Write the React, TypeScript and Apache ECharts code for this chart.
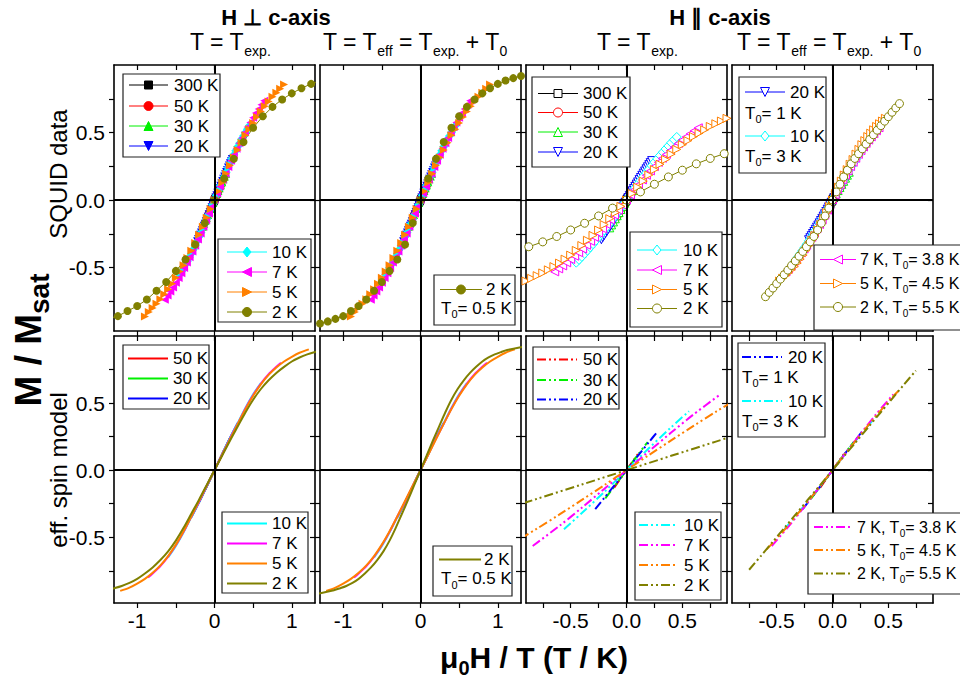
import React, { useEffect, useRef } from 'react';
import * as echarts from 'echarts';

const FONT_FAMILY = '"Liberation Sans", Arial, Helvetica, sans-serif';

// ---------------- data ----------------
const TEMPS = [300, 50, 30, 20, 10, 7, 5, 2];

// applied field grid (T) of the SQUID runs
const FIELD = [-4.5, -4.25, -4, -3.75, -3.5, -3.25, -3, -2.75, -2.5, -2.25, -2, -1.75, -1.5, -1.25, -1, -0.75, -0.5, -0.25, 0,
  0.25, 0.5, 0.75, 1, 1.25, 1.5, 1.75, 2, 2.25, 2.5, 2.75, 3, 3.25, 3.5, 3.75, 4, 4.25, 4.5];
const FIELD_COARSE = [-4.5, -4, -3.5, -3, -2.5, -2, -1.5, -1, -0.5, 0, 0.5, 1, 1.5, 2, 2.5, 3, 3.5, 4, 4.5];

// SQUID data, H perpendicular to c (M / Msat)
const PERP_300K = [-0.021, -0.019, -0.016, -0.014, -0.012, -0.009, -0.007, -0.005, -0.002, 0, 0.002, 0.005, 0.007, 0.009, 0.012, 0.014, 0.016, 0.019, 0.021];
const PERP_50K = [-0.118, -0.105, -0.092, -0.079, -0.066, -0.053, -0.04, -0.026, -0.013, 0, 0.013, 0.026, 0.039, 0.052, 0.065, 0.078, 0.091, 0.104, 0.117];
const PERP_30K = [-0.197, -0.176, -0.155, -0.133, -0.111, -0.089, -0.067, -0.045, -0.022, 0, 0.022, 0.044, 0.066, 0.088, 0.11, 0.131, 0.153, 0.174, 0.195];
const PERP_20K = [-0.305, -0.289, -0.273, -0.257, -0.241, -0.224, -0.208, -0.191, -0.175, -0.158, -0.141, -0.123, -0.106, -0.088, -0.071, -0.053, -0.035, -0.018, 0,
  0.018, 0.035, 0.053, 0.07, 0.088, 0.105, 0.122, 0.14, 0.157, 0.174, 0.19, 0.207, 0.223, 0.24, 0.256, 0.272, 0.288, 0.303];
const PERP_10K = [-0.552, -0.527, -0.502, -0.477, -0.452, -0.423, -0.397, -0.367, -0.337, -0.306, -0.272, -0.241, -0.207, -0.176, -0.141, -0.106, -0.07, -0.035, 0,
  0.035, 0.07, 0.105, 0.14, 0.175, 0.205, 0.24, 0.27, 0.305, 0.335, 0.365, 0.395, 0.42, 0.45, 0.475, 0.5, 0.525, 0.55];
const PERP_7K = [-0.738, -0.708, -0.678, -0.647, -0.613, -0.578, -0.542, -0.503, -0.463, -0.423, -0.382, -0.338, -0.292, -0.247, -0.197, -0.15, -0.1, -0.05, 0,
  0.05, 0.1, 0.15, 0.195, 0.245, 0.29, 0.335, 0.38, 0.42, 0.46, 0.5, 0.54, 0.575, 0.61, 0.645, 0.675, 0.705, 0.735];
const PERP_5K = [-0.862, -0.83, -0.8, -0.768, -0.734, -0.698, -0.66, -0.62, -0.576, -0.53, -0.483, -0.43, -0.375, -0.318, -0.258, -0.197, -0.132, -0.066, 0,
  0.065, 0.13, 0.195, 0.255, 0.315, 0.37, 0.425, 0.48, 0.525, 0.57, 0.615, 0.655, 0.695, 0.73, 0.765, 0.795, 0.825, 0.855];
const PERP_2K = [-0.958, -0.952, -0.945, -0.936, -0.926, -0.914, -0.899, -0.88, -0.86, -0.822, -0.785, -0.737, -0.672, -0.607, -0.525, -0.44, -0.33, -0.17, 0,
  0.16, 0.305, 0.43, 0.535, 0.62, 0.69, 0.745, 0.79, 0.828, 0.86, 0.885, 0.903, 0.918, 0.93, 0.94, 0.948, 0.955, 0.96];

// SQUID data, H parallel to c
const PAR_300K = [-0.022, -0.02, -0.017, -0.015, -0.012, -0.01, -0.007, -0.005, -0.002, 0, 0.002, 0.005, 0.007, 0.01, 0.012, 0.015, 0.017, 0.02, 0.022];
const PAR_50K = [-0.128, -0.114, -0.1, -0.086, -0.071, -0.057, -0.043, -0.029, -0.014, 0, 0.014, 0.029, 0.043, 0.057, 0.071, 0.086, 0.1, 0.114, 0.128];
const PAR_30K = [-0.206, -0.184, -0.162, -0.139, -0.116, -0.093, -0.07, -0.047, -0.024, 0, 0.024, 0.047, 0.07, 0.093, 0.116, 0.139, 0.162, 0.184, 0.206];
const PAR_20K = [-0.294, -0.279, -0.264, -0.248, -0.233, -0.217, -0.201, -0.185, -0.169, -0.152, -0.136, -0.119, -0.102, -0.085, -0.068, -0.051, -0.034, -0.017, 0,
  0.017, 0.034, 0.051, 0.068, 0.085, 0.101, 0.118, 0.134, 0.151, 0.167, 0.183, 0.199, 0.215, 0.231, 0.246, 0.262, 0.277, 0.292];
const PAR_10K = [-0.464, -0.443, -0.421, -0.398, -0.375, -0.351, -0.327, -0.302, -0.277, -0.251, -0.225, -0.199, -0.172, -0.144, -0.117, -0.088, -0.059, -0.03, 0,
  0.03, 0.06, 0.089, 0.118, 0.146, 0.174, 0.201, 0.228, 0.254, 0.28, 0.305, 0.33, 0.354, 0.378, 0.401, 0.424, 0.446, 0.467];
const PAR_7K = [-0.532, -0.51, -0.488, -0.465, -0.441, -0.416, -0.39, -0.363, -0.335, -0.306, -0.276, -0.245, -0.213, -0.181, -0.147, -0.112, -0.075, -0.037, 0,
  0.038, 0.076, 0.113, 0.149, 0.183, 0.216, 0.248, 0.279, 0.309, 0.338, 0.366, 0.393, 0.419, 0.444, 0.468, 0.491, 0.513, 0.535];
const PAR_5K = [-0.6, -0.58, -0.56, -0.54, -0.517, -0.493, -0.467, -0.438, -0.408, -0.373, -0.337, -0.298, -0.262, -0.222, -0.182, -0.138, -0.093, -0.047, 0,
  0.048, 0.095, 0.14, 0.185, 0.225, 0.265, 0.3, 0.34, 0.375, 0.41, 0.44, 0.47, 0.495, 0.52, 0.545, 0.565, 0.585, 0.605];
const PAR_2K = [-0.716, -0.684, -0.652, -0.619, -0.586, -0.553, -0.519, -0.485, -0.451, -0.416, -0.381, -0.346, -0.31, -0.27, -0.222, -0.172, -0.118, -0.06, 0,
  0.06, 0.117, 0.171, 0.221, 0.268, 0.308, 0.343, 0.379, 0.414, 0.449, 0.483, 0.517, 0.551, 0.584, 0.617, 0.65, 0.682, 0.714];

// T0 corrections (aligned with TEMPS)
const PERP_T0 = [0, 0, 0, 0, 0, 0, 0, 0.5];
const PAR_T0 = [0, 0, 0, 1, 3, 3.8, 4.5, 5.5];

// effective spin model, H perpendicular to c  (x = mu0H / T_exp)
const MPERP_50K_X = [-0.12, -0.06, 0, 0.06, 0.12];
const MPERP_50K_M = [-0.145, -0.073, 0, 0.073, 0.145];
const MPERP_30K_X = [-0.2, -0.1, 0, 0.1, 0.2];
const MPERP_30K_M = [-0.24, -0.12, 0, 0.12, 0.24];
const MPERP_20K_X = [-0.3, -0.2, -0.1, 0, 0.1, 0.2, 0.3];
const MPERP_20K_M = [-0.352, -0.24, -0.12, 0, 0.12, 0.24, 0.352];
const MPERP_10K_X = [-0.6, -0.5, -0.4, -0.3, -0.2, -0.1, 0, 0.1, 0.2, 0.3, 0.4, 0.5, 0.6];
const MPERP_10K_M = [-0.65, -0.565, -0.463, -0.35, -0.238, -0.12, 0, 0.12, 0.238, 0.35, 0.463, 0.565, 0.65];
const MPERP_7K_X = [-0.86, -0.8, -0.7, -0.6, -0.5, -0.4, -0.3, -0.2, -0.1, 0, 0.1, 0.2, 0.3, 0.4, 0.5, 0.6, 0.7, 0.8, 0.86];
const MPERP_7K_M = [-0.8, -0.77, -0.715, -0.645, -0.56, -0.46, -0.345, -0.235, -0.118, 0, 0.118, 0.235, 0.345, 0.46, 0.56, 0.645, 0.715, 0.77, 0.8];
const MPERP_5K_X = [-1.22, -1.1, -1, -0.9, -0.8, -0.7, -0.6, -0.5, -0.4, -0.3, -0.2, -0.1, 0, 0.1, 0.2, 0.3, 0.4, 0.5, 0.6, 0.7, 0.8, 0.9, 1, 1.1, 1.22];
const MPERP_5K_M = [-0.9, -0.875, -0.845, -0.81, -0.765, -0.71, -0.64, -0.555, -0.455, -0.345, -0.23, -0.115, 0, 0.115, 0.23, 0.345, 0.455, 0.555, 0.64, 0.71, 0.765, 0.81, 0.845, 0.875, 0.9];
const MPERP_2K_X = [-3, -2.5, -2, -1.8, -1.6, -1.4, -1.3, -1.2, -1.1, -1, -0.9, -0.8, -0.7, -0.6, -0.5, -0.4, -0.3, -0.2, -0.1, 0,
  0.1, 0.2, 0.3, 0.4, 0.5, 0.6, 0.7, 0.8, 0.9, 1, 1.1, 1.2, 1.3, 1.4, 1.6, 1.8, 2, 2.5, 3];
const MPERP_2K_M = [-0.965, -0.955, -0.94, -0.93, -0.915, -0.895, -0.88, -0.863, -0.84, -0.81, -0.77, -0.725, -0.67, -0.605, -0.525, -0.43, -0.325, -0.22, -0.11, 0,
  0.11, 0.22, 0.325, 0.43, 0.525, 0.605, 0.67, 0.725, 0.77, 0.81, 0.84, 0.863, 0.88, 0.895, 0.915, 0.93, 0.94, 0.955, 0.965];

// effective spin model, H parallel to c
const MPAR_50K_X = [-0.11, 0, 0.11];
const MPAR_50K_M = [-0.13, 0, 0.13];
const MPAR_30K_X = [-0.19, -0.1, 0, 0.1, 0.19];
const MPAR_30K_M = [-0.21, -0.112, 0, 0.112, 0.21];
const MPAR_20K_X = [-0.28, -0.2, -0.1, 0, 0.1, 0.2, 0.28];
const MPAR_20K_M = [-0.29, -0.208, -0.105, 0, 0.105, 0.208, 0.29];
const MPAR_10K_X = [-0.56, -0.4, -0.2, 0, 0.2, 0.4, 0.56];
const MPAR_10K_M = [-0.44, -0.32, -0.163, 0, 0.163, 0.32, 0.44];
const MPAR_7K_X = [-0.84, -0.6, -0.4, -0.2, 0, 0.2, 0.4, 0.6, 0.84];
const MPAR_7K_M = [-0.565, -0.415, -0.28, -0.14, 0, 0.14, 0.28, 0.415, 0.565];
const MPAR_5K_X = [-1.12, -1, -0.8, -0.6, -0.4, -0.2, 0, 0.2, 0.4, 0.6, 0.8, 1, 1.12];
const MPAR_5K_M = [-0.59, -0.535, -0.435, -0.33, -0.222, -0.112, 0, 0.112, 0.222, 0.33, 0.435, 0.535, 0.59];
const MPAR_2K_X = [-2.8, -2.4, -2, -1.6, -1.2, -0.8, -0.4, 0, 0.4, 0.8, 1.2, 1.6, 2, 2.4, 2.8];
const MPAR_2K_M = [-0.742, -0.638, -0.532, -0.426, -0.32, -0.213, -0.107, 0, 0.107, 0.213, 0.32, 0.426, 0.532, 0.638, 0.742];

// ticks
const X_TICKS_WIDE = [-1, -0.5, 0, 0.5, 1];
const X_LABELS_WIDE = [-1, 0, 1];
const X_TICKS_NARROW = [-0.75, -0.5, -0.25, 0, 0.25, 0.5, 0.75];
const X_LABELS_NARROW = [-0.5, 0, 0.5];
const Y_TICKS = [-0.75, -0.5, -0.25, 0, 0.25, 0.5, 0.75];
const Y_LABELS = [-0.5, 0, 0.5];

// ---------------- assembly ----------------
const SQUID_PERP = [PERP_300K, PERP_50K, PERP_30K, PERP_20K, PERP_10K, PERP_7K, PERP_5K, PERP_2K];
const SQUID_PAR = [PAR_300K, PAR_50K, PAR_30K, PAR_20K, PAR_10K, PAR_7K, PAR_5K, PAR_2K];
const MODEL_PERP = [null, [MPERP_50K_X, MPERP_50K_M], [MPERP_30K_X, MPERP_30K_M], [MPERP_20K_X, MPERP_20K_M], [MPERP_10K_X, MPERP_10K_M],
  [MPERP_7K_X, MPERP_7K_M], [MPERP_5K_X, MPERP_5K_M], [MPERP_2K_X, MPERP_2K_M]];
const MODEL_PAR = [null, [MPAR_50K_X, MPAR_50K_M], [MPAR_30K_X, MPAR_30K_M], [MPAR_20K_X, MPAR_20K_M], [MPAR_10K_X, MPAR_10K_M],
  [MPAR_7K_X, MPAR_7K_M], [MPAR_5K_X, MPAR_5K_M], [MPAR_2K_X, MPAR_2K_M]];

const STYLE: Record<number, { color: string; symbol: string; rot: number; size: number }> = {
  300: { color: '#000000', symbol: 'rect', rot: 0, size: 7 },
  50: { color: '#ff0000', symbol: 'circle', rot: 0, size: 8 },
  30: { color: '#00f000', symbol: 'triangle', rot: 0, size: 8 },
  20: { color: '#0000ff', symbol: 'triangle', rot: 180, size: 8 },
  10: { color: '#00ffff', symbol: 'diamond', rot: 0, size: 9 },
  7: { color: '#ff00ff', symbol: 'triangle', rot: 90, size: 8 },
  5: { color: '#ff8000', symbol: 'triangle', rot: -90, size: 8 },
  2: { color: '#808000', symbol: 'circle', rot: 0, size: 8 },
};
const DASH_DOT_DOT = [9, 3, 2, 3, 2, 3];

const COL_LEFT = [114, 320, 526, 732];
const COL_W = 201;
const ROW_TOP = [65, 336];
const ROW_H = [266, 267];
const X_RANGE = [[-1.3, 1.3], [-1.3, 1.3], [-0.9, 0.9], [-0.9, 0.9]];
const Y_RANGE = [[-0.97, 1.0], [-0.99, 1.0]];

let measureCtx: any = null;
function textWidth(t: string, size: number, bold: boolean) {
  if (!measureCtx) measureCtx = document.createElement('canvas').getContext('2d');
  measureCtx.font = `${bold ? 'bold ' : ''}${size}px ${FONT_FAMILY}`;
  return measureCtx.measureText(t).width;
}
type Part = { t: string; s: number; dy?: number; b?: boolean };
function richText(parts: Part[], x: number, y: number, align = 'left', rotation = 0) {
  const widths = parts.map((p) => textWidth(p.t, p.s, !!p.b));
  const total = widths.reduce((a, b) => a + b, 0);
  let cx = align === 'center' ? -total / 2 : align === 'right' ? -total : 0;
  const children = parts.map((p, i) => {
    const el = {
      type: 'text', x: cx, y: p.dy || 0, silent: true, z: 110,
      style: {
        text: p.t, font: `${p.b ? 'bold ' : ''}${p.s}px ${FONT_FAMILY}`, fill: '#000',
        textAlign: 'left', textVerticalAlign: 'middle', align: 'left', verticalAlign: 'middle',
      },
    };
    cx += widths[i];
    return el;
  });
  return { type: 'group', x, y, rotation, children, z: 110 };
}

function markerEl(T: number, cx: number, cy: number, open: boolean) {
  const st = STYLE[T];
  const r = st.size / 2 + 0.5;
  const style = { fill: open ? '#fff' : st.color, stroke: st.color, lineWidth: 1 };
  const base = { silent: true, z: 106 };
  if (st.symbol === 'circle') return { type: 'circle', shape: { cx, cy, r }, style, ...base };
  if (st.symbol === 'rect') return { type: 'rect', shape: { x: cx - r, y: cy - r, width: 2 * r, height: 2 * r }, style, ...base };
  let pts: number[][];
  if (st.symbol === 'diamond') pts = [[cx, cy - r], [cx + r * 0.8, cy], [cx, cy + r], [cx - r * 0.8, cy]];
  else if (st.rot === 0) pts = [[cx, cy - r], [cx + r, cy + r], [cx - r, cy + r]];
  else if (st.rot === 180) pts = [[cx, cy + r], [cx + r, cy - r], [cx - r, cy - r]];
  else if (st.rot === 90) pts = [[cx - r, cy], [cx + r, cy - r], [cx + r, cy + r]];
  else pts = [[cx + r, cy], [cx - r, cy - r], [cx - r, cy + r]];
  return { type: 'polygon', shape: { points: pts }, style, ...base };
}

const LS = 17; // legend font size
function t0Parts(t0: number): Part[] {
  return [{ t: 'T', s: LS }, { t: '0', s: 11, dy: 6 }, { t: `= ${t0} K`, s: LS }];
}

type Row = { T?: number; y: number; t0?: number; withT0?: boolean; x?: number };
function legendEls(box: number[], line: number[], textX: number, kind: string, rows: Row[], t0s: number[]) {
  const els: any[] = [];
  els.push({ type: 'rect', shape: { x: box[0], y: box[1], width: box[2], height: box[3] }, style: { fill: '#fff', stroke: '#222', lineWidth: 1.2 }, z: 104, silent: true });
  rows.forEach((r) => {
    if (r.T == null) {
      els.push(richText(t0Parts(r.t0 as number), r.x as number, r.y));
      return;
    }
    const T = r.T;
    const st = STYLE[T];
    const lw = kind === 'filled' || kind === 'open' ? 1 : 2;
    els.push({ type: 'line', shape: { x1: line[0], y1: r.y, x2: line[1], y2: r.y }, style: { stroke: st.color, lineWidth: lw, lineDash: kind === 'dash' ? DASH_DOT_DOT : null }, z: 105, silent: true });
    if (kind === 'filled' || kind === 'open') els.push(markerEl(T, (line[0] + line[1]) / 2, r.y, kind === 'open'));
    let parts: Part[] = [{ t: `${T} K`, s: LS }];
    if (r.withT0) {
      const t0 = t0s[TEMPS.indexOf(T)];
      parts = [{ t: `${T} K, T`, s: 16 }, { t: '0', s: 10, dy: 6 }, { t: `= ${t0} K`, s: 16 }];
    }
    els.push(richText(parts, textX, r.y));
  });
  return els;
}

function buildOption() {
  const grids: any[] = [];
  const xAxes: any[] = [];
  const yAxes: any[] = [];
  const xTop: any[] = [];
  const yRight: any[] = [];
  for (let p = 0; p < 8; p++) {
    const row = Math.floor(p / 4);
    const col = p % 4;
    grids.push({ left: COL_LEFT[col], top: ROW_TOP[row], width: COL_W, height: ROW_H[row], show: false });
    const wide = col < 2;
    const xTicks = wide ? X_TICKS_WIDE : X_TICKS_NARROW;
    const xLabels = wide ? X_LABELS_WIDE : X_LABELS_NARROW;
    const xFmt = (v: number) => (wide ? String(Math.round(v)) : v.toFixed(1));
    const axisLine = { show: true, onZero: false, lineStyle: { color: '#000', width: 1.6 } };
    const tickLine = { color: '#000', width: 1.2 };
    const mk = (pos: string, isX: boolean, inside: boolean, showLabel: boolean) => ({
      type: 'value', gridIndex: p, position: pos,
      min: isX ? X_RANGE[col][0] : Y_RANGE[row][0], max: isX ? X_RANGE[col][1] : Y_RANGE[row][1],
      axisLine,
      axisTick: { show: true, inside, length: 5, customValues: isX ? xTicks : Y_TICKS, lineStyle: tickLine },
      axisLabel: {
        show: showLabel, customValues: isX ? xLabels : Y_LABELS,
        formatter: isX ? xFmt : (v: number) => v.toFixed(1),
        fontSize: 21, color: '#000', fontFamily: FONT_FAMILY, margin: isX ? 7 : 9,
      },
      splitLine: { show: false },
      axisPointer: { show: false },
    });
    xAxes.push(mk('bottom', true, false, row === 1));
    xTop.push(mk('top', true, true, false));
    yAxes.push(mk('left', false, false, col === 0));
    yRight.push(mk('right', false, true, false));
  }

  const series: any[] = [];
  for (let p = 0; p < 8; p++) {
    series.push({
      type: 'line', xAxisIndex: p, yAxisIndex: p, data: [[0, 0]], symbol: 'none', lineStyle: { opacity: 0 }, silent: true, z: 1,
      markLine: {
        silent: true, symbol: ['none', 'none'], label: { show: false }, animation: false,
        lineStyle: { color: '#000', width: 2, type: 'solid' },
        data: [{ xAxis: 0 }, { yAxis: 0 }],
      },
    });
  }
  TEMPS.forEach((T, k) => {
    const st = STYLE[T];
    const field = SQUID_PERP[k].length === FIELD.length ? FIELD : FIELD_COARSE;
    // SQUID panels
    [0, 1, 2, 3].forEach((p) => {
      const par = p >= 2;
      const m = par ? SQUID_PAR[k] : SQUID_PERP[k];
      const t0 = p === 1 ? PERP_T0[k] : p === 3 ? PAR_T0[k] : 0;
      series.push({
        type: 'line', xAxisIndex: p, yAxisIndex: p, silent: true, z: 3,
        data: field.map((b, i) => [b / (T + t0), m[i]]),
        symbol: st.symbol, symbolSize: st.size, symbolRotate: st.rot, showAllSymbol: true,
        lineStyle: { color: st.color, width: 1 },
        itemStyle: par ? { color: '#fff', borderColor: st.color, borderWidth: 1 } : { color: st.color },
        emphasis: { disabled: true },
      });
    });
    // model panels
    [4, 5, 6, 7].forEach((p) => {
      const par = p >= 6;
      const mdl = par ? MODEL_PAR[k] : MODEL_PERP[k];
      if (!mdl) return;
      const t0 = p === 5 ? PERP_T0[k] : p === 7 ? PAR_T0[k] : 0;
      const [xs, ms] = mdl as number[][];
      series.push({
        type: 'line', xAxisIndex: p, yAxisIndex: p, silent: true, z: 3,
        data: xs.map((x, i) => [(x * T) / (T + t0), ms[i]]),
        symbol: 'none', smooth: 0.3,
        lineStyle: { color: st.color, width: 2, type: par ? DASH_DOT_DOT : 'solid' },
        emphasis: { disabled: true },
      });
    });
  });

  const els: any[] = [];
  // titles
  els.push(richText([{ t: 'H ⊥ c-axis', s: 22, b: true }], 276, 17, 'center'));
  els.push(richText([{ t: 'H ∥ c-axis', s: 22, b: true }], 720, 17, 'center'));
  const M = 23, S = 14, D = 9;
  const sub1: Part[] = [{ t: 'T = T', s: M }, { t: 'exp.', s: S, dy: D }];
  const sub2: Part[] = [{ t: 'T = T', s: M }, { t: 'eff', s: S, dy: D }, { t: ' = T', s: M }, { t: 'exp.', s: S, dy: D }, { t: ' + T', s: M }, { t: '0', s: S, dy: D }];
  els.push(richText(sub1, 190, 42));
  els.push(richText(sub2, 323, 42));
  els.push(richText(sub1, 597, 42));
  els.push(richText(sub2, 737, 42));
  // axis names
  els.push(richText([{ t: 'SQUID data', s: 24 }], 58, 174, 'center', Math.PI / 2));
  els.push(richText([{ t: 'eff. spin model', s: 24 }], 58, 470, 'center', Math.PI / 2));
  els.push(richText([{ t: 'M / M', s: 37, b: true }, { t: 'sat', s: 28, b: true, dy: 11 }], 28, 340, 'center', Math.PI / 2));
  els.push(richText([{ t: 'μ', s: 30, b: true }, { t: '0', s: 20, b: true, dy: 11 }, { t: 'H / T (T / K)', s: 30, b: true }], 534, 657, 'center'));

  // legends
  els.push(...legendEls([123, 74, 97, 83], [129, 168], 174, 'filled', [{ T: 300, y: 85 }, { T: 50, y: 106 }, { T: 30, y: 126 }, { T: 20, y: 146 }], PERP_T0));
  els.push(...legendEls([218, 239, 93, 83], [227, 267], 272, 'filled', [{ T: 10, y: 252 }, { T: 7, y: 272 }, { T: 5, y: 292 }, { T: 2, y: 312 }], PERP_T0));
  els.push(...legendEls([434, 275, 81, 50], [440, 482], 486, 'filled', [{ T: 2, y: 289.5 }, { y: 308, x: 441, t0: PERP_T0[7] }], PERP_T0));
  els.push(...legendEls([532, 77, 98, 90], [538, 578], 583, 'open', [{ T: 300, y: 93.5 }, { T: 50, y: 112.5 }, { T: 30, y: 132 }, { T: 20, y: 152 }], PAR_T0));
  els.push(...legendEls([630, 232, 92, 95], [637, 677], 683, 'open', [{ T: 10, y: 250 }, { T: 7, y: 270 }, { T: 5, y: 289.5 }, { T: 2, y: 308.5 }], PAR_T0));
  els.push(...legendEls([739, 77, 87, 96], [745, 785], 790, 'open', [{ T: 20, y: 92 }, { y: 113, x: 745, t0: PAR_T0[3] }, { T: 10, y: 136 }, { y: 156, x: 745, t0: PAR_T0[4] }], PAR_T0));
  els.push(...legendEls([814, 245, 148, 85], [820, 856], 860, 'open', [{ T: 7, y: 259.5, withT0: true }, { T: 5, y: 283.5, withT0: true }, { T: 2, y: 307, withT0: true }], PAR_T0));
  els.push(...legendEls([123, 345, 86, 64], [128, 168], 173, 'line', [{ T: 50, y: 358.5 }, { T: 30, y: 378.5 }, { T: 20, y: 398.5 }], PERP_T0));
  els.push(...legendEls([222, 512, 86, 81], [227, 267], 272, 'line', [{ T: 10, y: 523.5 }, { T: 7, y: 543.5 }, { T: 5, y: 563.5 }, { T: 2, y: 583.5 }], PERP_T0));
  els.push(...legendEls([433, 546, 79, 50], [439, 481], 484, 'line', [{ T: 2, y: 559.5 }, { y: 578.5, x: 441, t0: PERP_T0[7] }], PERP_T0));
  els.push(...legendEls([533, 347, 86, 62], [537, 577], 583, 'dash', [{ T: 50, y: 359.5 }, { T: 30, y: 380 }, { T: 20, y: 399.5 }], PAR_T0));
  els.push(...legendEls([635, 512, 86, 88], [639, 677], 684, 'dash', [{ T: 10, y: 525 }, { T: 7, y: 545 }, { T: 5, y: 565 }, { T: 2, y: 585 }], PAR_T0));
  els.push(...legendEls([738, 343, 87, 94], [742, 782], 788, 'dash', [{ T: 20, y: 357 }, { y: 377, x: 742, t0: PAR_T0[3] }, { T: 10, y: 401 }, { y: 421, x: 742, t0: PAR_T0[4] }], PAR_T0));
  els.push(...legendEls([808, 513, 154, 81], [814, 852], 857, 'dash', [{ T: 7, y: 527, withT0: true }, { T: 5, y: 550, withT0: true }, { T: 2, y: 573.5, withT0: true }], PAR_T0));

  return {
    animation: false,
    backgroundColor: '#ffffff',
    textStyle: { fontFamily: FONT_FAMILY },
    grid: grids,
    xAxis: [...xAxes, ...xTop],
    yAxis: [...yAxes, ...yRight],
    series,
    graphic: { elements: els },
  };
}

export default function App() {
  const ref = useRef<HTMLDivElement>(null);
  useEffect(() => {
    document.body.style.margin = '0';
    const chart = echarts.init(ref.current as HTMLDivElement, null, { renderer: 'svg' });
    chart.setOption(buildOption() as any);
    return () => chart.dispose();
  }, []);
  return <div ref={ref} style={{ width: 960, height: 682, position: 'absolute', left: 0, top: 0, background: '#fff' }} />;
}
